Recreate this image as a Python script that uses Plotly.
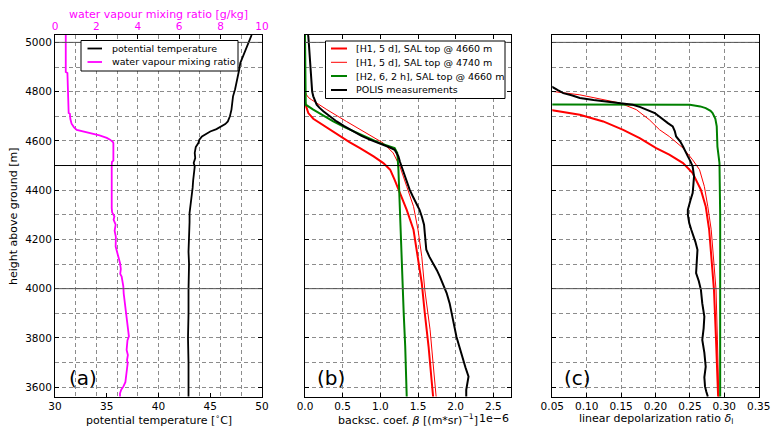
import plotly.graph_objects as go

# ---------------- data ----------------
# panel (a): potential temperature [deg C] vs height [m]
temp_h = [5030, 5010, 4997, 4980, 4961, 4940, 4916, 4890, 4860, 4835, 4810, 4781, 4755, 4727,
          4700, 4679, 4668, 4659, 4648, 4638, 4628, 4618, 4605, 4591, 4575, 4551, 4530, 4510,
          4496, 4470, 4440, 4410, 4374, 4340, 4307, 4270, 4230, 4198, 4150, 4100, 4050, 3995,
          3900, 3800, 3700, 3600, 3562]
temp_v = [49.0, 48.8, 48.7, 48.5, 48.3, 48.1, 47.9, 47.8, 47.65, 47.55, 47.4, 47.2, 47.15, 47.05,
          46.9, 46.7, 46.45, 46.1, 45.6, 45.0, 44.6, 44.2, 43.95, 43.85, 43.6, 43.5, 43.55, 43.4,
          43.5, 43.4, 43.35, 43.3, 43.2, 43.1, 43.0, 43.0, 42.95, 42.95, 42.9, 42.95, 42.9, 42.9,
          42.9, 42.85, 42.9, 42.95, 42.9]

# panel (a): water vapour mixing ratio [g/kg] vs height [m]
wv_h = [5030, 4880, 4876, 4800, 4713, 4710, 4690, 4670, 4655, 4645, 4638, 4630, 4622, 4612, 4605,
        4595, 4591, 4520, 4515, 4496, 4400, 4327, 4310, 4293, 4280, 4260, 4235, 4210, 4171, 4150,
        4130, 4104, 4080, 4060, 4049, 4009, 3980, 3941, 3910, 3873, 3840, 3820, 3806, 3790, 3770,
        3751, 3730, 3710, 3697, 3670, 3643, 3620, 3602, 3590, 3575, 3562]
wv_v = [0.52, 0.52, 0.60, 0.63, 0.66, 0.72, 0.74, 0.80, 0.92, 1.05, 1.4, 1.75, 2.15, 2.5, 2.66,
        2.8, 2.82, 2.82, 2.75, 2.74, 2.73, 2.74, 2.76, 2.87, 2.83, 2.93, 2.88, 2.94, 2.93, 3.0,
        3.06, 3.14, 3.18, 3.15, 3.22, 3.30, 3.32, 3.38, 3.42, 3.46, 3.50, 3.55, 3.57, 3.50, 3.47,
        3.46, 3.52, 3.48, 3.51, 3.47, 3.46, 3.40, 3.30, 3.20, 3.14, 3.14]

# panel (b): backscatter coefficient [1e-6 (m sr)^-1]
polis_b_h = [5030, 5024, 5000, 4970, 4940, 4916, 4890, 4862, 4840, 4815, 4800, 4781, 4765, 4747,
             4735, 4720, 4700, 4679, 4660, 4638, 4620, 4605, 4595, 4584, 4574, 4564, 4550, 4537,
             4515, 4496, 4475, 4456, 4430, 4401, 4375, 4347, 4320, 4293, 4260, 4225, 4190, 4158,
             4130, 4104, 4075, 4049, 4015, 3982, 3940, 3900, 3850, 3805, 3760, 3711, 3680, 3643,
             3615, 3589, 3562]
polis_b_v = [0.04, 0.044, 0.05, 0.057, 0.06, 0.066, 0.07, 0.075, 0.08, 0.088, 0.095, 0.11, 0.13, 0.155,
             0.19, 0.243, 0.33, 0.42, 0.52, 0.64, 0.75, 0.86, 0.95, 1.04, 1.12, 1.19, 1.22, 1.24,
             1.26, 1.28, 1.31, 1.33, 1.36, 1.39, 1.43, 1.48, 1.52, 1.55, 1.58, 1.59, 1.60, 1.61,
             1.65, 1.70, 1.75, 1.79, 1.84, 1.88, 1.92, 1.95, 1.98, 2.01, 2.05, 2.10, 2.13, 2.17,
             2.15, 2.14, 2.14]

h1_4660_b_h = [5030, 4760, 4740, 4713, 4690, 4672, 4645, 4618, 4595, 4571, 4555, 4537, 4510, 4483,
               4442, 4388, 4320, 4239, 4130, 4022, 3900, 3765, 3629, 3562]
h1_4660_b_v = [0.0, 0.0, 0.015, 0.044, 0.11, 0.2, 0.33, 0.46, 0.59, 0.73, 0.82, 0.91, 1.04, 1.13,
               1.19, 1.26, 1.35, 1.44, 1.50, 1.55, 1.59, 1.64, 1.68, 1.70]

h1_4740_b_h = [5030, 4800, 4787, 4775, 4767, 4750, 4727, 4679, 4632, 4591, 4551, 4496, 4415, 4334,
               4239, 4130, 3995, 3833, 3697, 3562]
h1_4740_b_v = [0.0, 0.003, 0.02, 0.05, 0.088, 0.17, 0.29, 0.55, 0.82, 1.04, 1.17, 1.26, 1.35, 1.44,
               1.50, 1.55, 1.59, 1.66, 1.70, 1.74]

h2_4660_b_h = [5030, 4760, 4747, 4727, 4700, 4679, 4655, 4632, 4610, 4591, 4571, 4560, 4551, 4483,
               4300, 4104, 3900, 3765, 3562]
h2_4660_b_v = [0.0, 0.0, 0.01, 0.11, 0.25, 0.375, 0.53, 0.69, 0.85, 0.995, 1.19, 1.21, 1.225, 1.24,
               1.26, 1.28, 1.31, 1.33, 1.35]

# panel (c): linear depolarization ratio
polis_c_h = [4830, 4819, 4806, 4794, 4785, 4774, 4766, 4760, 4753, 4747, 4737, 4727, 4713, 4700,
             4686, 4672, 4659, 4640, 4618, 4597, 4577, 4557, 4537, 4516, 4496, 4476, 4456, 4420,
             4388, 4361, 4340, 4320, 4300, 4266, 4239, 4225, 4190, 4158, 4110, 4063, 4030, 3995,
             3940, 3887, 3840, 3792, 3740, 3683, 3640, 3602, 3580, 3562]
polis_c_v = [0.04, 0.05, 0.058, 0.066, 0.078, 0.09, 0.11, 0.129, 0.15, 0.167, 0.178, 0.187, 0.199, 0.205,
             0.211, 0.218, 0.225, 0.228, 0.23, 0.236, 0.24, 0.243, 0.247, 0.251, 0.254, 0.255, 0.256, 0.255,
             0.254, 0.251, 0.249, 0.247, 0.247, 0.249, 0.252, 0.254, 0.258, 0.261, 0.26, 0.259, 0.263, 0.266,
             0.268, 0.271, 0.27, 0.268, 0.271, 0.273, 0.271, 0.272, 0.274, 0.276]

h1_4660_c_h = [4740, 4724, 4706, 4679, 4645, 4611, 4571, 4544, 4510, 4469, 4401, 4334, 4239, 4100,
               3995, 3792, 3562]
h1_4660_c_v = [0.04, 0.05, 0.09, 0.124, 0.153, 0.177, 0.201, 0.22, 0.24, 0.254, 0.266, 0.273, 0.278,
               0.282, 0.285, 0.288, 0.291]

h1_4740_c_h = [4815, 4801, 4787, 4770, 4754, 4727, 4686, 4645, 4618, 4571, 4523, 4483, 4415, 4334,
               4239, 4100, 3995, 3792, 3562]
h1_4740_c_v = [0.04, 0.05, 0.09, 0.12, 0.148, 0.172, 0.191, 0.206, 0.22, 0.24, 0.254, 0.264, 0.271,
               0.276, 0.281, 0.285, 0.288, 0.290, 0.292]

h2_4660_c_h = [4748, 4747, 4740, 4733, 4722, 4713, 4690, 4659, 4577, 4510, 4300, 3562]
h2_4660_c_v = [0.0, 0.25, 0.265, 0.273, 0.28, 0.283, 0.287, 0.289, 0.290, 0.293, 0.294, 0.294]

ref_heights = [4000, 4500, 5000]
ref_colors = ["#555555", "#000000", "#555555"]

legend_a_labels = ["potential temperature", "water vapour mixing ratio"]
legend_b_labels = ["[H1, 5 d], SAL top @ 4660 m", "[H1, 5 d], SAL top @ 4740 m",
                   "[H2, 6, 2 h], SAL top @ 4660 m", "POLIS measurements"]

# ---------------- styling ----------------
W, H = 774, 426
FONT = "DejaVu Sans"
MAG = "#FF00FF"
GRID = dict(showgrid=True, gridcolor="#8c8c8c", gridwidth=1, griddash="4px,3px")

style_temp = dict(color="black", width=1.8)
style_wv = dict(color=MAG, width=1.8)
style_h1a = dict(color="#FF0000", width=2)
style_h1b = dict(color="#FF0000", width=1)
style_h2 = dict(color="#008000", width=2)
style_polis = dict(color="black", width=2)


def px_x(a, b):
    return [a / W, b / W]


ydom = [1 - 397 / H, 1 - 35 / H]

fig = go.Figure()

# panel (a)
fig.add_trace(go.Scatter(x=temp_v, y=temp_h, mode="lines", name=legend_a_labels[0],
                         line=style_temp, xaxis="x", yaxis="y"))
fig.add_trace(go.Scatter(x=wv_v, y=wv_h, mode="lines", name=legend_a_labels[1],
                         line=style_wv, xaxis="x2", yaxis="y"))

# panel (b)
for xs, ys, st, nm in [(h1_4660_b_v, h1_4660_b_h, style_h1a, legend_b_labels[0]),
                       (h1_4740_b_v, h1_4740_b_h, style_h1b, legend_b_labels[1]),
                       (h2_4660_b_v, h2_4660_b_h, style_h2, legend_b_labels[2]),
                       (polis_b_v, polis_b_h, style_polis, legend_b_labels[3])]:
    fig.add_trace(go.Scatter(x=xs, y=ys, mode="lines", name=nm, line=st, xaxis="x3", yaxis="y2"))

# panel (c)
for xs, ys, st, nm in [(h1_4660_c_v, h1_4660_c_h, style_h1a, legend_b_labels[0]),
                       (h1_4740_c_v, h1_4740_c_h, style_h1b, legend_b_labels[1]),
                       (h2_4660_c_v, h2_4660_c_h, style_h2, legend_b_labels[2]),
                       (polis_c_v, polis_c_h, style_polis, legend_b_labels[3])]:
    fig.add_trace(go.Scatter(x=xs, y=ys, mode="lines", name=nm, line=st, xaxis="x4", yaxis="y3"))

tickfont = dict(family=FONT, size=10.5, color="black")
common_ax = dict(showline=True, linecolor="black", linewidth=1, ticks="inside", ticklen=4,
                 tickcolor="black", tickfont=tickfont, zeroline=False, automargin=False)

yax = dict(common_ax, range=[3560, 5030], domain=ydom, tick0=3600, dtick=200, mirror="ticks",
           minor=dict(tick0=3600, dtick=100, **GRID), **GRID)

fig.update_layout(
    width=W, height=H, margin=dict(l=0, r=0, t=0, b=0, autoexpand=False),
    paper_bgcolor="white", plot_bgcolor="white", showlegend=False,
    font=dict(family=FONT, size=11, color="black"),
    xaxis=dict(common_ax, domain=px_x(55, 262), anchor="y", range=[30, 50], dtick=5,
               mirror=True, showgrid=False, ticklabelstandoff=-1),
    xaxis2=dict(common_ax, overlaying="x", side="top", anchor="y", range=[0, 10], dtick=2,
                tickfont=dict(family=FONT, size=10.5, color=MAG), ticklabelstandoff=0,
                minor=dict(dtick=1, **GRID), **GRID),
    xaxis3=dict(common_ax, domain=px_x(305, 510.7), anchor="y2", range=[0, 2.73], dtick=0.5,
                tickformat=".1f", mirror="ticks", ticklabelstandoff=-1, **GRID),
    xaxis4=dict(common_ax, domain=px_x(552.3, 758.7), anchor="y3", range=[0.05, 0.35], dtick=0.05,
                tick0=0.05, tickformat=".2f", mirror="ticks", ticklabelstandoff=-1, **GRID),
    yaxis=dict(yax, anchor="x"),
    yaxis2=dict(yax, anchor="x3", showticklabels=False),
    yaxis3=dict(yax, anchor="x4", showticklabels=False),
)

shapes = []
for xr, yr in [("x domain", "y"), ("x3 domain", "y2"), ("x4 domain", "y3")]:
    for hh, cc in zip(ref_heights, ref_colors):
        shapes.append(dict(type="line", xref=xr, yref=yr, x0=0, x1=1, y0=hh, y1=hh,
                           line=dict(color=cc, width=1), layer="above"))

ann = [
    dict(text="height above ground [m]", x=13 / W, y=(ydom[0] + ydom[1]) / 2, xref="paper", yref="paper",
         textangle=-90, showarrow=False, font=dict(size=11), yanchor="middle", xanchor="center"),
    dict(text="water vapour mixing ratio [g/kg]", x=(55 + 262) / 2 / W, y=1 - 14 / H, xref="paper",
         yref="paper", showarrow=False, font=dict(size=11, color=MAG), yanchor="middle", xanchor="center"),
    dict(text="potential temperature [<sup>∘</sup>C]", x=(55 + 262) / 2 / W, y=1 - 419 / H, xref="paper",
         yref="paper", showarrow=False, font=dict(size=11), yanchor="middle", xanchor="center"),
    dict(text="backsc. coef. <i>β</i> [(m*sr)<sup>−1</sup>]", x=(305 + 510.7) / 2 / W, y=1 - 419 / H,
         xref="paper", yref="paper", showarrow=False, font=dict(size=11), yanchor="middle", xanchor="center"),
    dict(text="1e−6", x=511 / W, y=1 - 418 / H, xref="paper", yref="paper", xanchor="right",
         yanchor="middle", showarrow=False, font=dict(size=11)),
    dict(text="linear depolarization ratio <i>δ</i><sub>l</sub>", x=(552.3 + 758.7) / 2 / W, y=1 - 419 / H,
         xref="paper", yref="paper", showarrow=False, font=dict(size=11), yanchor="middle", xanchor="center"),
    dict(text="(a)", x=(55 + 12) / W, y=1 - 392 / H, xref="paper", yref="paper", xanchor="left",
         yanchor="bottom", showarrow=False, font=dict(size=20)),
    dict(text="(b)", x=(305 + 10) / W, y=1 - 392 / H, xref="paper", yref="paper", xanchor="left",
         yanchor="bottom", showarrow=False, font=dict(size=20)),
    dict(text="(c)", x=(552.3 + 9.5) / W, y=1 - 392 / H, xref="paper", yref="paper", xanchor="left",
         yanchor="bottom", showarrow=False, font=dict(size=20)),
]


# compact legends (matplotlib-like), built from the trace names and styles
def add_legend(box, rows, key_x, text_x, labels, styles):
    x0, y0, x1, y1 = box
    shapes.append(dict(type="rect", xref="paper", yref="paper", x0=x0 / W, x1=x1 / W,
                       y0=1 - y1 / H, y1=1 - y0 / H, fillcolor="white",
                       line=dict(color="black", width=1), layer="above"))
    for ry, lab, st in zip(rows, labels, styles):
        shapes.append(dict(type="line", xref="paper", yref="paper", x0=key_x[0] / W, x1=key_x[1] / W,
                           y0=1 - ry / H, y1=1 - ry / H, line=st, layer="above"))
        ann.append(dict(text=lab, x=text_x / W, y=1 - ry / H, xref="paper", yref="paper",
                        xanchor="left", yanchor="middle", showarrow=False,
                        font=dict(size=9.5, family=FONT)))


add_legend((81, 40.5, 238, 71), [48.5, 62], (87.5, 102), 110, legend_a_labels, [style_temp, style_wv])
add_legend((325.5, 41, 505, 98.5), [48.5, 62.3, 76, 90], (331, 347), 354, legend_b_labels,
           [style_h1a, style_h1b, style_h2, style_polis])

fig.update_layout(shapes=shapes, annotations=ann)

fig.write_html("out.html")
